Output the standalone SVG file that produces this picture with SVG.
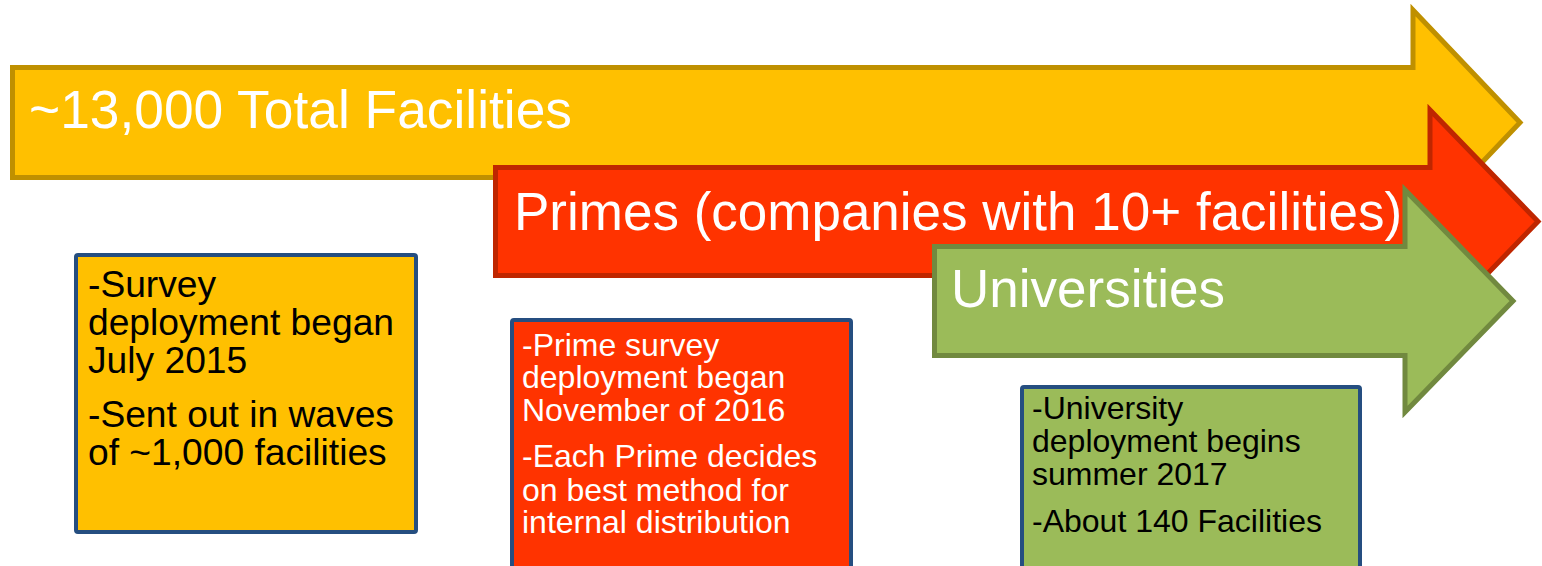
<svg xmlns="http://www.w3.org/2000/svg" width="1542" height="566" viewBox="0 0 1542 566">
<style>
.t{font-family:"Liberation Sans",Arial,sans-serif}
.big{font-size:53px;fill:#FFFFFF}
.box{stroke:#254E80;stroke-width:4}
.b1{font-size:37.2px;fill:#000000}
.b2{font-size:32px;fill:#FFFFFF}
.b3{font-size:32px;fill:#000000}
</style>
<rect width="1542" height="566" fill="#FFFFFF"/>
<g id="arrow-total">
<path d="M12.5,67.5 H1413 V10 L1520,122.5 L1413,235 V177.5 H12.5 Z" fill="#FFC000" stroke="#BF9000" stroke-width="5"/>
<text class="t big" x="29" y="128" textLength="543" lengthAdjust="spacingAndGlyphs">~13,000 Total Facilities</text>
</g>
<g id="arrow-primes">
<path d="M495.5,167.5 H1430 V110 L1538,221.5 L1430,333 V275.5 H495.5 Z" fill="#FF3300" stroke="#BF2600" stroke-width="5"/>
<text class="t big" x="514" y="230">Primes (companies with 10+ facilities)</text>
</g>
<g id="arrow-universities">
<path d="M934.5,246.5 H1405 V190 L1513,301 L1405,412 V355.5 H934.5 Z" fill="#9BBB59" stroke="#71893F" stroke-width="5"/>
<text class="t big" x="951" y="307">Universities</text>
</g>
<g id="box-total">
<rect class="box" x="76" y="255" width="340" height="277" rx="2" fill="#FFC000"/>
<text class="t b1"><tspan x="88" y="297">-Survey</tspan><tspan x="88" y="335">deployment began</tspan><tspan x="88" y="373">July 2015</tspan><tspan x="88" y="427">-Sent out in waves</tspan><tspan x="88" y="465">of ~1,000 facilities</tspan></text>
</g>
<g id="box-primes">
<rect class="box" x="512" y="320" width="339" height="260" rx="2" fill="#FF3300"/>
<text class="t b2"><tspan x="522" y="356">-Prime survey</tspan><tspan x="522" y="388">deployment began</tspan><tspan x="522" y="421">November of 2016</tspan><tspan x="522" y="467">-Each Prime decides</tspan><tspan x="522" y="501">on best method for</tspan><tspan x="522" y="533">internal distribution</tspan></text>
</g>
<g id="box-universities">
<rect class="box" x="1022" y="387" width="338" height="200" rx="2" fill="#9BBB59"/>
<text class="t b3"><tspan x="1032" y="419">-University</tspan><tspan x="1032" y="452">deployment begins</tspan><tspan x="1032" y="485">summer 2017</tspan><tspan x="1032" y="532">-About 140 Facilities</tspan></text>
</g>
<g id="connectors"></g>
</svg>
